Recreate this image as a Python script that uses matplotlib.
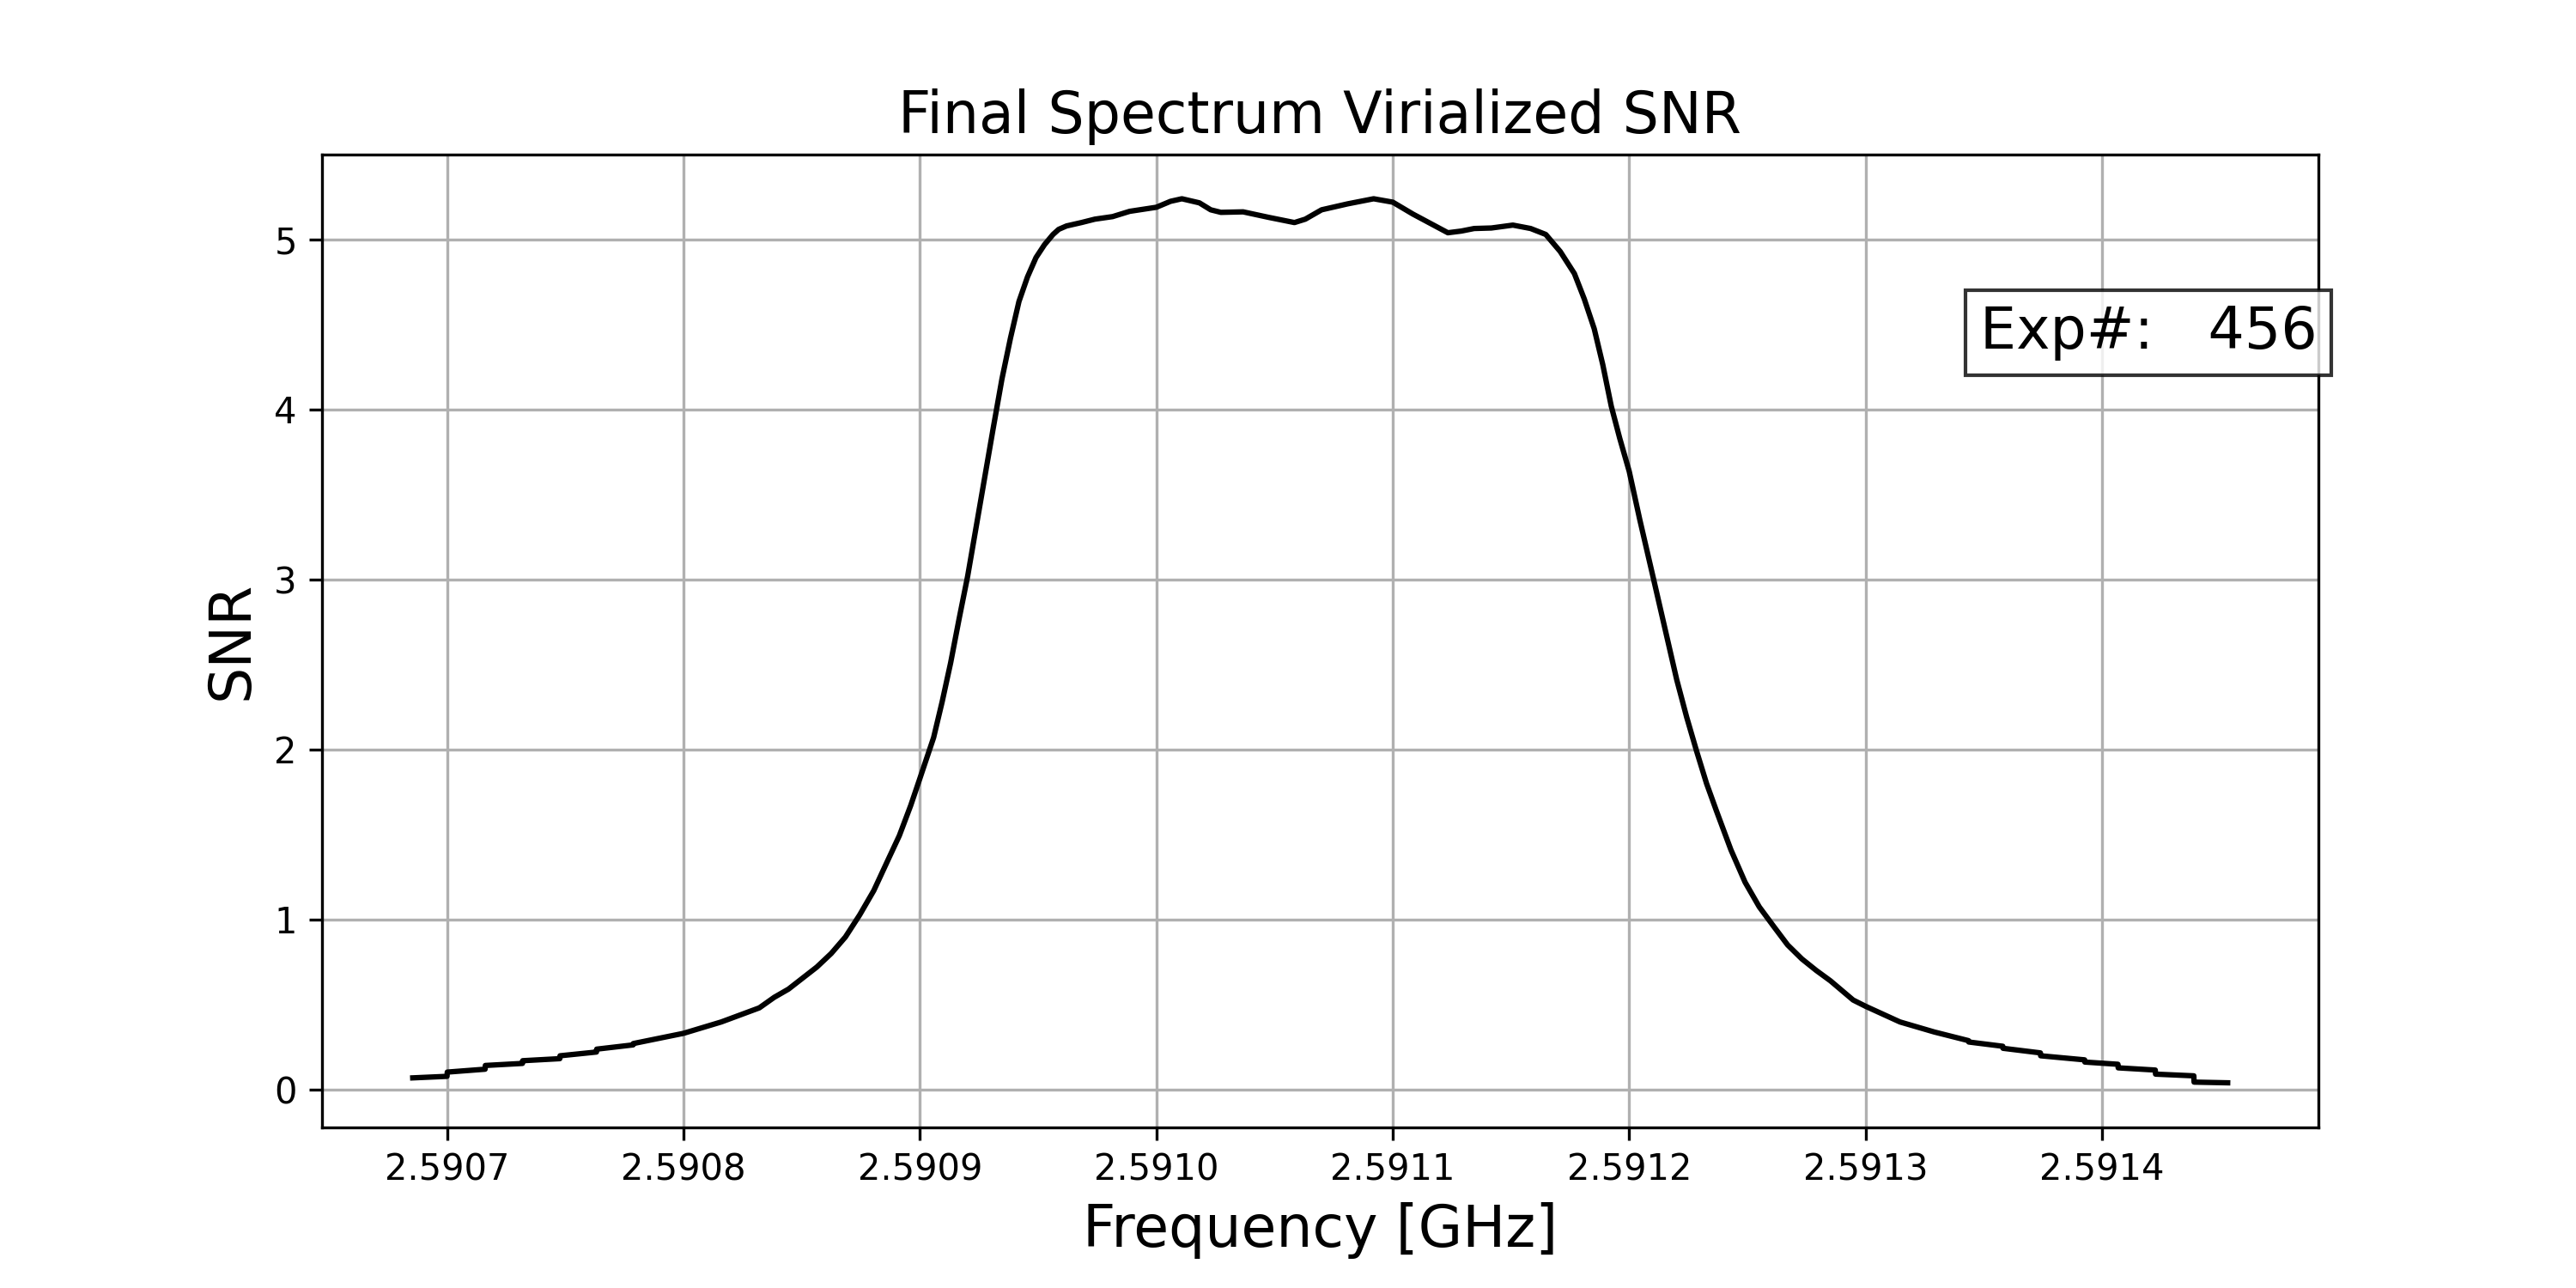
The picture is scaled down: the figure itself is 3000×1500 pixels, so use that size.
import matplotlib
matplotlib.use("Agg")
import matplotlib.pyplot as plt
import numpy as np

# frequency [GHz] and virialized SNR
freq = [2.5906855, 2.5907000, 2.5907001, 2.5907161, 2.5907162, 2.5907319,
        2.5907320, 2.5907477, 2.5907478, 2.5907632, 2.5907633, 2.5907787,
        2.5907788, 2.5908000, 2.5908160, 2.5908321, 2.5908384, 2.5908444,
        2.5908504, 2.5908564, 2.5908625, 2.5908685, 2.5908745, 2.5908805,
        2.5908865, 2.5908913, 2.5908961, 2.5909000, 2.5909058, 2.5909094,
        2.5909130, 2.5909166, 2.5909202, 2.5909238, 2.5909274, 2.5909310,
        2.5909347, 2.5909383, 2.5909419, 2.5909455, 2.5909491, 2.5909527,
        2.5909563, 2.5909587, 2.5909620, 2.5909683, 2.5909740, 2.5909815,
        2.5909887, 2.5910000, 2.5910060, 2.5910108, 2.5910182, 2.5910230,
        2.5910273, 2.5910367, 2.5910477, 2.5910584, 2.5910630, 2.5910699,
        2.5910809, 2.5910919, 2.5911000, 2.5911085, 2.5911233, 2.5911290,
        2.5911344, 2.5911417, 2.5911508, 2.5911583, 2.5911647, 2.5911708,
        2.5911768, 2.5911810, 2.5911852, 2.5911888, 2.5911924, 2.5911960,
        2.5912000, 2.5912045, 2.5912105, 2.5912153, 2.5912201, 2.5912243,
        2.5912285, 2.5912327, 2.5912369, 2.5912430, 2.5912490, 2.5912550,
        2.5912610, 2.5912670, 2.5912730, 2.5912791, 2.5912851, 2.5912947,
        2.5913000, 2.5913145, 2.5913290, 2.5913435, 2.5913436, 2.5913580,
        2.5913581, 2.5913739, 2.5913740, 2.5913926, 2.5913927, 2.5914067,
        2.5914068, 2.5914225, 2.5914226, 2.5914388, 2.5914389, 2.5914531]
snr = [0.068, 0.077, 0.102, 0.119, 0.141, 0.153,
       0.169, 0.181, 0.198, 0.220, 0.237, 0.262,
       0.270, 0.330, 0.397, 0.480, 0.542, 0.590,
       0.655, 0.720, 0.800, 0.897, 1.026, 1.170,
       1.350, 1.493, 1.670, 1.830, 2.070, 2.280,
       2.510, 2.770, 3.020, 3.310, 3.600, 3.890,
       4.180, 4.420, 4.636, 4.780, 4.894, 4.970,
       5.030, 5.060, 5.080, 5.100, 5.120, 5.135,
       5.166, 5.190, 5.225, 5.240, 5.216, 5.175,
       5.160, 5.163, 5.130, 5.100, 5.120, 5.175,
       5.210, 5.240, 5.220, 5.150, 5.040, 5.050,
       5.065, 5.068, 5.085, 5.065, 5.030, 4.930,
       4.800, 4.650, 4.475, 4.265, 4.020, 3.830,
       3.636, 3.350, 2.990, 2.700, 2.410, 2.190,
       1.990, 1.800, 1.638, 1.410, 1.219, 1.074,
       0.961, 0.850, 0.768, 0.700, 0.639, 0.526,
       0.489, 0.397, 0.338, 0.287, 0.279, 0.254,
       0.242, 0.215, 0.198, 0.174, 0.161, 0.148,
       0.127, 0.114, 0.090, 0.080, 0.043, 0.039]

exp_num = 456

fig, ax = plt.subplots(figsize=(10, 5), dpi=300)
fig.subplots_adjust(left=0.125, right=0.9, top=0.88, bottom=0.125)

ax.plot(np.array(freq), np.array(snr), color='k', lw=1.5)
ax.grid(True)
ax.ticklabel_format(axis='x', useOffset=False)

ax.set_title('Final Spectrum Virialized SNR', fontsize=16)
ax.set_xlabel('Frequency [GHz]', fontsize=16)
ax.set_ylabel('SNR', fontsize=16)

ax.text(0.915, 0.817, 'Exp#:   %d' % exp_num, transform=ax.transAxes,
        ha='center', va='center', fontsize=16,
        bbox=dict(facecolor='white', edgecolor='black', alpha=0.8))

plt.savefig('out.png', dpi=300)
